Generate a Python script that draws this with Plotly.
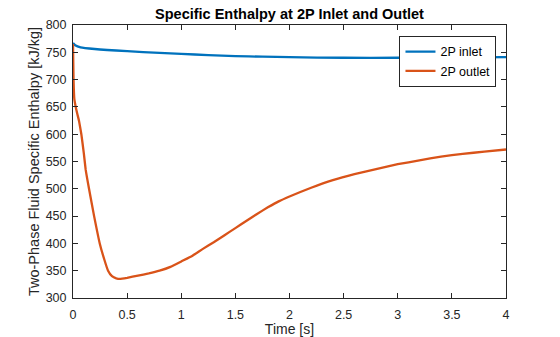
import plotly.graph_objects as go

t_in = [0, 0.02, 0.07, 0.2, 0.5, 0.8, 1.0, 1.25, 1.5, 1.75, 2.0, 2.5, 3.0, 3.5, 4.0]
h_in = [767, 763, 759, 756, 752, 749, 747, 745, 743, 742, 741, 740, 740, 740.5, 741]

t_out = [0, 0.005, 0.012, 0.025, 0.04, 0.056, 0.077, 0.1, 0.117, 0.148, 0.195, 0.247,
         0.29, 0.324, 0.36, 0.4, 0.432, 0.5, 0.6, 0.7, 0.8, 0.9, 1.0, 1.1, 1.2, 1.3,
         1.4, 1.5, 1.6, 1.7, 1.8, 1.9, 2.0, 2.2, 2.4, 2.6, 2.8, 3.0, 3.2, 3.4, 3.6,
         3.8, 4.0]
h_out = [765, 700, 665, 650, 637, 624, 600, 565, 535, 500, 450, 400,
         370, 350, 340, 336, 335, 337, 341, 345, 350, 357, 367, 377, 390, 402,
         415, 428, 441, 454, 466, 477, 486, 502, 516, 527, 536, 545, 552, 559, 564,
         568, 572]

x_ticks = [0, 0.5, 1, 1.5, 2, 2.5, 3, 3.5, 4]
x_labels = ["0", "0.5", "1", "1.5", "2", "2.5", "3", "3.5", "4"]
y_ticks = [300, 350, 400, 450, 500, 550, 600, 650, 700, 750, 800]

font = "Liberation Sans, Arial, sans-serif"

fig = go.Figure()
fig.add_trace(go.Scatter(x=t_in, y=h_in, mode="lines", name="2P inlet",
                         line=dict(color="#0072BD", width=2.3, shape="spline", smoothing=0.6)))
fig.add_trace(go.Scatter(x=t_out, y=h_out, mode="lines", name="2P outlet",
                         line=dict(color="#D95319", width=2.3, shape="spline", smoothing=0.3)))

axis_common = dict(showline=True, linecolor="#262626", linewidth=1, mirror="ticks",
                   ticks="inside", ticklen=5, tickcolor="#262626", showgrid=False,
                   zeroline=False,
                   tickfont=dict(family=font, size=12.5, color="#262626"))

fig.update_layout(
    width=560, height=337,
    margin=dict(l=73, r=54, t=25, b=39),
    paper_bgcolor="white", plot_bgcolor="white",
    title=dict(text="<b>Specific Enthalpy at 2P Inlet and Outlet</b>", x=0.5, xref="paper",
               y=0.96, yref="container", yanchor="middle",
               font=dict(family=font, size=14.5, color="#000000")),
    xaxis=dict(range=[0, 4], tickvals=x_ticks, ticktext=x_labels, ticklabelstandoff=5,
               automargin=False,
               title=dict(text="Time [s]", font=dict(family=font, size=14, color="#262626")),
               **axis_common),
    yaxis=dict(range=[300, 800], tickvals=y_ticks, ticklabelstandoff=3,
               automargin=True,
               title=dict(text="Two-Phase Fluid Specific Enthalpy [kJ/kg]", standoff=2,
                          font=dict(family=font, size=14.5, color="#262626")),
               **axis_common),
    legend=dict(x=0.978, y=0.96, xanchor="right", yanchor="top",
                bgcolor="white", bordercolor="#262626", borderwidth=1,
                font=dict(family=font, size=12.5, color="#000000"),
                tracegroupgap=0, itemwidth=30),
    showlegend=True,
)

fig.write_html("out.html")
